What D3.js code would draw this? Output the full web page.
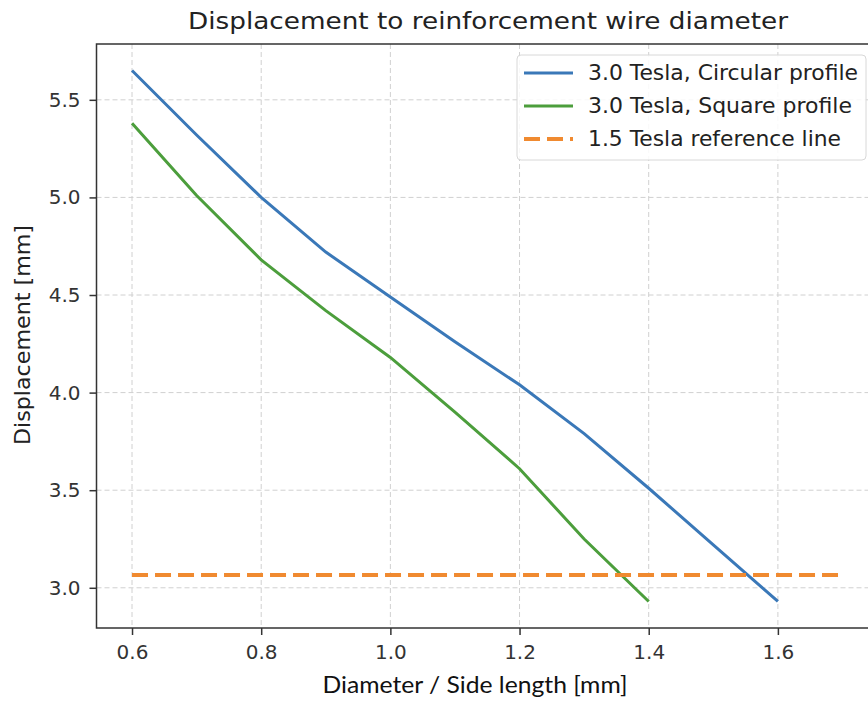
<!DOCTYPE html>
<html>
<head>
<meta charset="utf-8">
<script src="https://cdn.jsdelivr.net/npm/d3@7"></script>
<style>
  body { margin: 0; background: #fff; }
  svg { font-family: "DejaVu Sans", sans-serif; }
</style>
</head>
<body>
<div id="chart"></div>
<script>
// Data
const diameters = [0.6, 0.7, 0.8, 0.9, 1.0, 1.1, 1.2, 1.3, 1.4, 1.5, 1.6];
const circular = [5.65, 5.32, 5.0, 4.72, 4.49, 4.26, 4.04, 3.79, 3.51, 3.22, 2.93];
const squareX = [0.6, 0.7, 0.8, 0.9, 1.0, 1.1, 1.2, 1.3, 1.4];
const square = [5.38, 5.01, 4.68, 4.42, 4.18, 3.90, 3.61, 3.25, 2.93];
const refLineX = [0.6, 1.7];
const refValue = 3.065;
const xTicks = [0.6, 0.8, 1.0, 1.2, 1.4, 1.6];
const yTicks = [3.0, 3.5, 4.0, 4.5, 5.0, 5.5];
const seriesNames = ["3.0 Tesla, Circular profile", "3.0 Tesla, Square profile", "1.5 Tesla reference line"];

const W = 868, H = 702;
const margin = { left: 96.5, right: 878, top: 44, bottom: 628 };

const svg = d3.select("#chart")
    .append("svg")
    .attr("width", W)
    .attr("height", H);

// Scales (matplotlib style 5% margins)
const x = d3.scaleLinear().domain([0.545, 1.755]).range([margin.left, margin.right]);
const y = d3.scaleLinear().domain([2.794, 5.786]).range([margin.bottom, margin.top]);

// Grid lines
const grid = svg.append("g");
grid.selectAll(".gx")
    .data(xTicks)
    .enter()
    .append("line")
    .attr("x1", d => x(d)).attr("x2", d => x(d))
    .attr("y1", margin.top).attr("y2", margin.bottom)
    .attr("stroke", "#d0d0d0")
    .attr("stroke-width", 1)
    .attr("stroke-dasharray", "5,3");
grid.selectAll(".gy")
    .data(yTicks)
    .enter()
    .append("line")
    .attr("x1", margin.left).attr("x2", margin.right)
    .attr("y1", d => y(d)).attr("y2", d => y(d))
    .attr("stroke", "#d0d0d0")
    .attr("stroke-width", 1)
    .attr("stroke-dasharray", "5,3");

// Lines
const line = d3.line()
    .x(d => x(d[0]))
    .y(d => y(d[1]));

svg.append("path")
    .datum(diameters.map((d, i) => [d, circular[i]]))
    .attr("fill", "none")
    .attr("stroke", "#3a78b8")
    .attr("stroke-width", 3)
    .attr("d", line);

svg.append("path")
    .datum(squareX.map((d, i) => [d, square[i]]))
    .attr("fill", "none")
    .attr("stroke", "#4c9e3c")
    .attr("stroke-width", 3)
    .attr("d", line);

svg.append("path")
    .datum(refLineX.map(d => [d, refValue]))
    .attr("fill", "none")
    .attr("stroke", "#f08a30")
    .attr("stroke-width", 4)
    .attr("stroke-dasharray", "16,7")
    .attr("d", line);

// Axes
const xAxis = svg.append("g")
    .attr("transform", `translate(0,${margin.bottom})`)
    .call(d3.axisBottom(x).tickValues(xTicks).tickFormat(d3.format(".1f")).tickSize(7).tickPadding(10).tickSizeOuter(0));
const yAxis = svg.append("g")
    .attr("transform", `translate(${margin.left},0)`)
    .call(d3.axisLeft(y).tickValues(yTicks).tickFormat(d3.format(".1f")).tickSize(7).tickPadding(9).tickSizeOuter(0));

[xAxis, yAxis].forEach(a => {
    a.select(".domain").remove();
    a.selectAll("line").attr("stroke", "#333").attr("stroke-width", 1.5);
    a.selectAll("text").attr("fill", "#333").style("font-size", "20px").style("font-family", "DejaVu Sans, sans-serif");
});

// Frame
svg.append("rect")
    .attr("x", margin.left).attr("y", margin.top)
    .attr("width", margin.right - margin.left).attr("height", margin.bottom - margin.top)
    .attr("fill", "none")
    .attr("stroke", "#333")
    .attr("stroke-width", 1.5);

// Title and labels
svg.append("text")
    .attr("x", 488)
    .attr("y", 29)
    .attr("text-anchor", "middle")
    .attr("fill", "#222")
    .attr("textLength", 600)
    .attr("lengthAdjust", "spacingAndGlyphs")
    .style("font-size", "23.5px")
    .text("Displacement to reinforcement wire diameter");

svg.append("text")
    .attr("x", 475)
    .attr("y", 693)
    .attr("text-anchor", "middle")
    .attr("fill", "#111")
    .attr("textLength", 305)
    .attr("lengthAdjust", "spacingAndGlyphs")
    .style("font-family", "Lato, sans-serif")
    .style("font-size", "24px")
    .text("Diameter / Side length [mm]");

svg.append("text")
    .attr("transform", `translate(30,335) rotate(-90)`)
    .attr("text-anchor", "middle")
    .attr("fill", "#222")
    .attr("textLength", 220)
    .attr("lengthAdjust", "spacingAndGlyphs")
    .style("font-size", "20.5px")
    .text("Displacement [mm]");

// Legend
const legend = svg.append("g").attr("transform", "translate(517,55)");
legend.append("rect")
    .attr("width", 349).attr("height", 105)
    .attr("rx", 4)
    .attr("fill", "rgba(255,255,255,0.85)")
    .attr("stroke", "#d8d8d8");

const legendStyles = [
    { color: "#3a78b8", dash: null, width: 3, len: 270 },
    { color: "#4c9e3c", dash: null, width: 3, len: 264 },
    { color: "#f08a30", dash: "16,7", width: 4, len: 253 }
];

seriesNames.forEach((name, i) => {
    const yy = 18 + i * 33;
    legend.append("line")
        .attr("x1", 7).attr("x2", 56)
        .attr("y1", yy).attr("y2", yy)
        .attr("stroke", legendStyles[i].color)
        .attr("stroke-width", legendStyles[i].width)
        .attr("stroke-dasharray", legendStyles[i].dash);
    legend.append("text")
        .attr("x", 71)
        .attr("y", yy)
        .attr("dy", "0.35em")
        .attr("fill", "#222")
        .attr("textLength", legendStyles[i].len)
        .attr("lengthAdjust", "spacingAndGlyphs")
        .style("font-size", "20.5px")
        .text(name);
});
</script>
</body>
</html>
